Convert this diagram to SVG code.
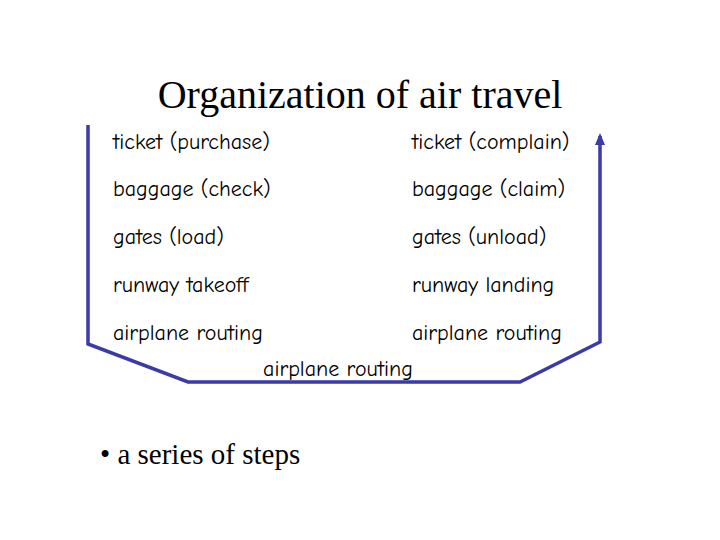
<svg xmlns="http://www.w3.org/2000/svg" width="720" height="540" viewBox="0 0 720 540">
<style>
.t{font-family:"Comic Neue","DejaVu Sans",sans-serif;font-size:22px;fill:#000}
.s{font-family:"Liberation Serif",serif;fill:#000}
</style>
<defs><marker id="a" markerWidth="12" markerHeight="10" refX="9" refY="5" orient="auto" markerUnits="userSpaceOnUse"><path d="M0,0 L12,5 L0,10 Z" fill="#3a3aa8"/></marker></defs>
<rect width="720" height="540" fill="#fff"/>
<text class="s" x="360" y="108" text-anchor="middle" font-size="40">Organization of air travel</text>
<g id="connectors"><path d="M88,125 V344 L188,382 H520 L600,342 V136" fill="none" stroke="#3a3aa8" stroke-width="3.5" marker-end="url(#a)"/></g>
<g id="n1"><text class="t" x="113" y="149">ticket (purchase)</text></g>
<g id="n2"><text class="t" x="113" y="196">baggage (check)</text></g>
<g id="n3"><text class="t" x="113" y="244">gates (load)</text></g>
<g id="n4"><text class="t" x="113" y="292">runway takeoff</text></g>
<g id="n5"><text class="t" x="113" y="340">airplane routing</text></g>
<g id="n6"><text class="t" x="412" y="149">ticket (complain)</text></g>
<g id="n7"><text class="t" x="412" y="196">baggage (claim)</text></g>
<g id="n8"><text class="t" x="412" y="244">gates (unload)</text></g>
<g id="n9"><text class="t" x="412" y="292">runway landing</text></g>
<g id="n10"><text class="t" x="412" y="340">airplane routing</text></g>
<g id="n11"><rect x="262" y="356" width="152" height="24" fill="#fff"/><text class="t" x="338" y="376" text-anchor="middle">airplane routing</text></g>
<text class="s" x="100" y="464" font-size="29">• a series of steps</text>
</svg>
